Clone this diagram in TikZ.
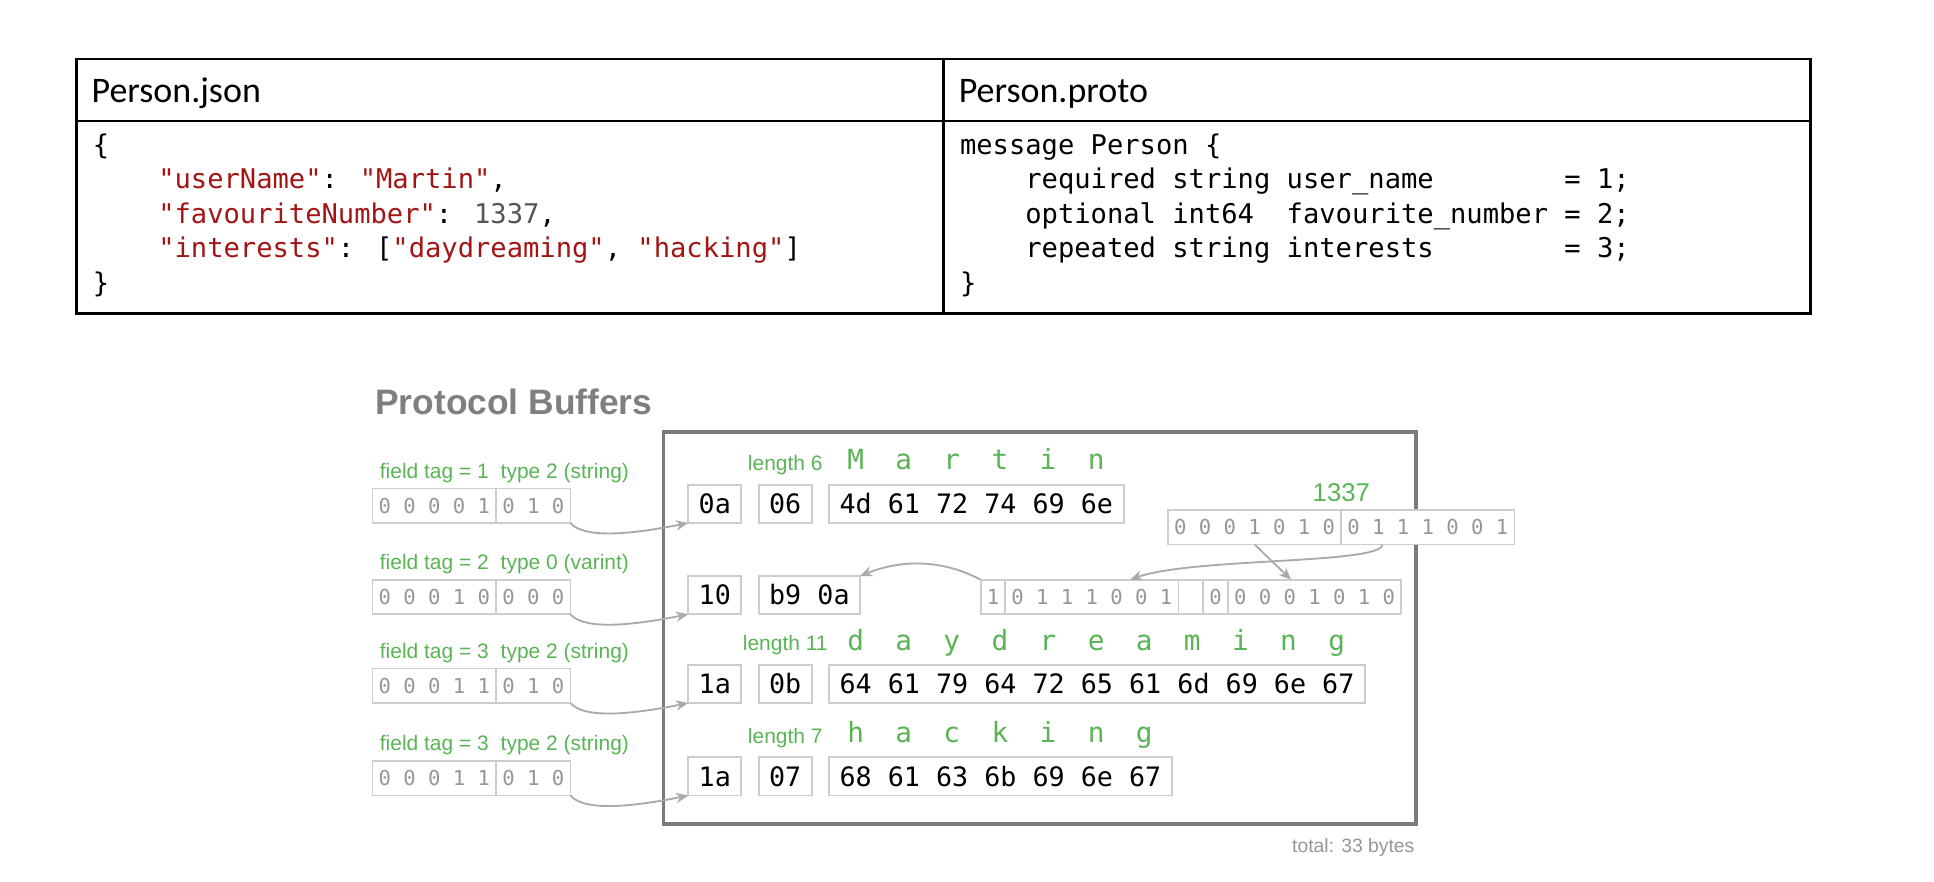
\documentclass[tikz,border=0pt]{standalone}
\usepackage{fontspec}
\setmainfont{Liberation Sans}
\setmonofont{DejaVu Sans Mono}
\newfontfamily\calibri{Carlito}
\newfontfamily\hexfont{DejaVu Sans Mono}
\usetikzlibrary{arrows.meta,positioning,calc}

\definecolor{jsonred}{RGB}{163,21,21}
\definecolor{numgray}{RGB}{85,85,85}
\definecolor{taggreen}{RGB}{90,180,85}
\definecolor{framegray}{RGB}{122,122,122}
\definecolor{titlegray}{RGB}{127,127,127}
\definecolor{boxgray}{RGB}{205,205,205}
\definecolor{bitgray}{RGB}{150,150,150}
\definecolor{arrowgray}{RGB}{170,170,170}

\begin{document}
\begin{tikzpicture}[x=0.6pt,y=-0.6pt,
    hexbox/.style={draw=boxgray,line width=0.9pt,fill=white,outer sep=0pt,
      font=\hexfont\fontsize{13}{15}\selectfont,inner xsep=5.1pt,inner ysep=4.55pt,
      text height=9.5pt,text depth=0pt,anchor=north west},
    bitbox/.style={draw=boxgray,line width=0.9pt,fill=white,outer sep=0pt,
      font=\hexfont\fontsize{10}{12}\selectfont,text=bitgray,inner xsep=3pt,
      inner ysep=4.75pt,text height=7.3pt,text depth=0pt},
    tag/.style={font=\fontsize{10.2}{11}\selectfont,text=taggreen,inner sep=0pt,
      text height=7.4pt,text depth=2.1pt},
    letter/.style={font=\hexfont\fontsize{13.5}{15}\selectfont,text=taggreen,inner sep=0pt,anchor=base},
    head/.style={anchor=base west,inner sep=0pt,font=\calibri\fontsize{17.5}{20}\selectfont},
    code/.style={font=\ttfamily\fontsize{13.2}{16.8}\selectfont,align=left,inner sep=0pt,anchor=north west},
    link/.style={draw=arrowgray,line width=0.9pt,-{Stealth[length=6pt,width=5pt]}}]
  \useasboundingbox (0,0) rectangle (1568,715);

  % schema table
  \draw[line width=1.2pt] (62,48) rectangle (1468,254)
    (62,98) -- (1468,98)
    (765,48) -- (765,254);
  \node[head] (jsonhead) at (74,83) {Person.json};
  \node[head] (protohead) at (777,83) {Person.proto};
  \node[code] (jsoncode) at (75,108) {\{\\
    ~~~~\textcolor{jsonred}{"userName"}: \textcolor{jsonred}{"Martin"},\\
    ~~~~\textcolor{jsonred}{"favouriteNumber"}: \textcolor{numgray}{1337},\\
    ~~~~\textcolor{jsonred}{"interests"}: [\textcolor{jsonred}{"daydreaming"}, \textcolor{jsonred}{"hacking"}]\\
    \}};
  \node[code] (protocode) at (778,108) {message Person \{\\
    ~~~~required string user\_name~~~~~~~~= 1;\\
    ~~~~optional int64~~favourite\_number = 2;\\
    ~~~~repeated string interests~~~~~~~~= 3;\\
    \}};

  % protocol buffers
  \node[anchor=base west,inner sep=0pt,font=\bfseries\fontsize{17.2}{20}\selectfont,text=titlegray] (title) at (304,336) {Protocol Buffers};
  \draw[framegray,line width=1.8pt] (538,350) rectangle (1148,668);

  % field 1
  \node[hexbox] (key1) at (558,393) {0a};
  \node[hexbox,right=8.4pt of key1] (len1) {06};
  \node[hexbox,right=8.4pt of len1] (val1) {4d 61 72 74 69 6e};
  \node[bitbox,anchor=south west] (fld1) at (302,424) {0 0 0 0 1};
  \node[bitbox,right=0pt of fld1] (typ1) {0 1 0};
  \node[tag,above=2.7pt of fld1] (fld1lbl) {field tag = 1};
  \node[tag,above right=2.7pt and 2pt of typ1.north west] (typ1lbl) {type 2 (string)};
  \node[tag,above=4.5pt of len1] (len1lbl) {length 6};
  \foreach \c [count=\i from 0] in {M,a,r,t,i,n}
    \node[letter] (m\i) at ($(val1.north west)+({21.5+39*\i},-12)$) {\c};

  % field 2
  \node[hexbox] (key2) at (558,467) {10};
  \node[hexbox,right=8.4pt of key2] (val2) {b9 0a};
  \node[bitbox,anchor=south west] (fld2) at (302,498) {0 0 0 1 0};
  \node[bitbox,right=0pt of fld2] (typ2) {0 0 0};
  \node[tag,above=2.7pt of fld2] (fld2lbl) {field tag = 2};
  \node[tag,above right=2.7pt and 2pt of typ2.north west] (typ2lbl) {type 0 (varint)};
  \node[bitbox,anchor=south west] (msb1) at (795,498) {1};
  \node[bitbox,right=0pt of msb1] (low7) {0 1 1 1 0 0 1};
  \node[bitbox,right=0pt of low7,minimum width=12pt] (gap) {};
  \node[bitbox,right=0pt of gap] (msb2) {0};
  \node[bitbox,right=0pt of msb2] (high7) {0 0 0 1 0 1 0};
  \node[bitbox,anchor=north west] (hi) at (947,413.5) {0 0 0 1 0 1 0};
  \node[bitbox,right=0pt of hi] (lo) {0 1 1 1 0 0 1};
  \node[anchor=south,inner sep=0pt,font=\fontsize{12.5}{14}\selectfont,text=taggreen] (numlbl) at ([yshift=3.9pt]hi.north east) {1337};

  % field 3
  \node[hexbox] (key3) at (558,539) {1a};
  \node[hexbox,right=8.4pt of key3] (len3) {0b};
  \node[hexbox,right=8.4pt of len3] (val3) {64 61 79 64 72 65 61 6d 69 6e 67};
  \node[bitbox,anchor=south west] (fld3) at (302,570) {0 0 0 1 1};
  \node[bitbox,right=0pt of fld3] (typ3) {0 1 0};
  \node[tag,above=2.7pt of fld3] (fld3lbl) {field tag = 3};
  \node[tag,above right=2.7pt and 2pt of typ3.north west] (typ3lbl) {type 2 (string)};
  \node[tag,above=4.5pt of len3] (len3lbl) {length 11};
  \foreach \c [count=\i from 0] in {d,a,y,d,r,e,a,m,i,n,g}
    \node[letter] (d\i) at ($(val3.north west)+({21.5+39*\i},-12)$) {\c};

  % field 3 again
  \node[hexbox] (key4) at (558,614) {1a};
  \node[hexbox,right=8.4pt of key4] (len4) {07};
  \node[hexbox,right=8.4pt of len4] (val4) {68 61 63 6b 69 6e 67};
  \node[bitbox,anchor=south west] (fld4) at (302,645) {0 0 0 1 1};
  \node[bitbox,right=0pt of fld4] (typ4) {0 1 0};
  \node[tag,above=2.7pt of fld4] (fld4lbl) {field tag = 3};
  \node[tag,above right=2.7pt and 2pt of typ4.north west] (typ4lbl) {type 2 (string)};
  \node[tag,above=4.5pt of len4] (len4lbl) {length 7};
  \foreach \c [count=\i from 0] in {h,a,c,k,i,n,g}
    \node[letter] (h\i) at ($(val4.north west)+({21.5+39*\i},-12)$) {\c};

  \node[anchor=base east,inner sep=0pt,font=\fontsize{9.4}{11}\selectfont,text=bitgray] (total) at (1147,691) {total: 33 bytes};

  % arrows
  \foreach \i in {1,...,4}
    \draw[link] (typ\i.south east) .. controls +(12,14) and +(-40,8) .. (key\i.south west);
  \draw[link] ([xshift=-22.2pt]lo.south) .. controls +(0,16) and +(50,-18) .. ([xshift=18.6pt]low7.north);
  \draw[link] (hi.south) -- ([xshift=-11.4pt]high7.north);
  \draw[link] (msb1.north west) .. controls +(-30,-16) and +(35,-14) .. (val2.north east);
\end{tikzpicture}
\end{document}
